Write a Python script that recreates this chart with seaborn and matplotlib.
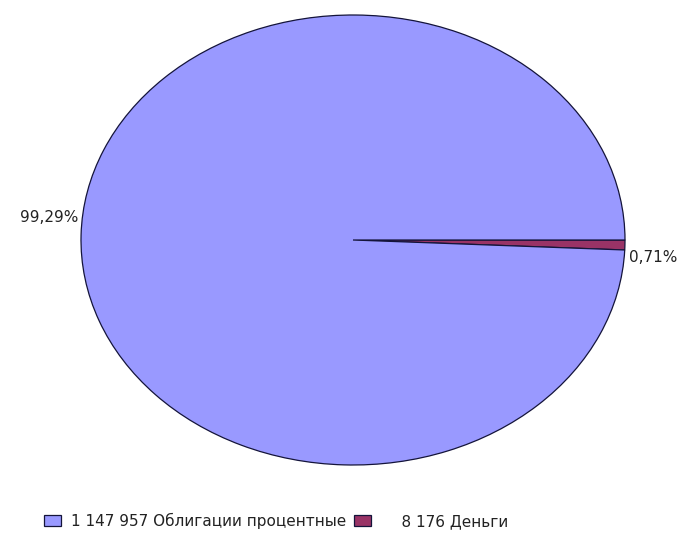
import matplotlib
matplotlib.use("Agg")
import matplotlib.pyplot as plt
import seaborn as sns

# data
categories = ["Облигации процентные", "Деньги"]
values = [1147957, 8176]
colors = ["#9999FF", "#993366"]

sns.set_style("white")
plt.rcParams['font.family'] = ['DejaVu Sans']

fig = plt.figure(figsize=(6.91, 5.39), dpi=100)
# axes box = bounding box of the ellipse
ax = fig.add_axes([81 / 691, 74 / 539, 544 / 691, 450 / 539])

# Excel draws clockwise starting from 3 o'clock; maroon slice first
wedges, _ = ax.pie(values[::-1], colors=colors[::-1], startangle=0, counterclock=False,
                   wedgeprops=dict(edgecolor="#14143a", linewidth=0.9))
wedges = wedges[::-1]
ax.set_aspect('auto')
ax.set_xlim(-1.0, 1.0)
ax.set_ylim(-1.0, 1.0)

total = sum(values)
pct = [f"{v / total * 100:.2f}%".replace(".", ",") for v in values]
ax.text(-1.01, 0.1, pct[0], ha='right', va='center', fontsize=11, color='#222222')
ax.text(1.015, -0.08, pct[1], ha='left', va='center', fontsize=11, color='#222222')

def fmt(v):
    s = f"{v:,}".replace(",", " ")
    return s.rjust(7, "\u2007")

labels = [f"{fmt(v)} {c}" for v, c in zip(values, categories)]
labels[0] = labels[0].lstrip("\u2007")
fig.legend(wedges, labels, loc='center left', bbox_to_anchor=(30 / 691, 18 / 539),
           ncol=2, frameon=False, fontsize=11, handlelength=1.1, handleheight=0.75,
           handletextpad=0.7, columnspacing=0.5, labelcolor='#222222')

fig.savefig("out.png", dpi=100)
